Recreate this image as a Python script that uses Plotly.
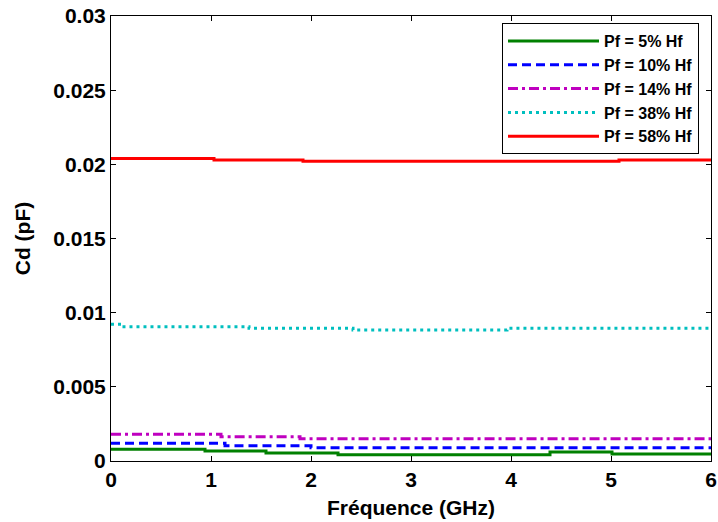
import plotly.graph_objects as go

# Frequency breakpoints (GHz) and Cd values (pF) (step-like curves)
freq_5 = [0, 0.94, 1.55, 2.27, 4.39, 5.01, 6]
cd_5 = [0.0008, 0.00067, 0.00054, 0.00042, 0.0006, 0.00047, 0.00047]

freq_10 = [0, 1.14, 2.0, 6]
cd_10 = [0.0012, 0.00103, 0.0009, 0.0009]

freq_14 = [0, 1.10, 1.89, 6]
cd_14 = [0.0018, 0.00164, 0.0015, 0.0015]

freq_38 = [0, 0.1, 1.38, 2.42, 3.96, 6]
cd_38 = [0.00922, 0.00905, 0.00895, 0.00883, 0.00895, 0.00895]

freq_58 = [0, 1.03, 1.92, 5.08, 6]
cd_58 = [0.0204, 0.0203, 0.0202, 0.0203, 0.0203]

names = ["Pf = 5% Hf", "Pf = 10% Hf", "Pf = 14% Hf", "Pf = 38% Hf", "Pf = 58% Hf"]
colors = ["#008000", "#0000FF", "#BF00BF", "#00BFBF", "#FF0000"]
dashes = ["solid", "9px,5px", "10px,4px,3px,4px", "3px,4px", "solid"]

x_ticks = [0, 1, 2, 3, 4, 5, 6]
y_ticks = [0, 0.005, 0.01, 0.015, 0.02, 0.025, 0.03]
y_tick_labels = ["0", "0.005", "0.01", "0.015", "0.02", "0.025", "0.03"]

series = [(freq_5, cd_5), (freq_10, cd_10), (freq_14, cd_14), (freq_38, cd_38), (freq_58, cd_58)]

fig = go.Figure()
for (fx, fy), name, col, dash in zip(series, names, colors, dashes):
    fig.add_trace(go.Scatter(
        x=fx, y=fy, mode="lines", name=name, line_shape="hv",
        line=dict(color=col, width=3, dash=dash),
    ))

FAM = "Liberation Sans, Arial, sans-serif"
tick_font = dict(family=FAM, size=21, color="black", weight="bold")
title_font = dict(family=FAM, size=21, color="black", weight="bold")

fig.update_layout(
    width=718, height=522,
    margin=dict(l=111, r=7, t=16, b=61, autoexpand=False),
    paper_bgcolor="white", plot_bgcolor="white",
    font=tick_font,
    legend=dict(
        x=(502 - 111) / 600, y=0.984, xanchor="left", yanchor="top",
        bgcolor="white", bordercolor="black", borderwidth=1,
        font=dict(family=FAM, size=16, color="black", weight="bold"),
        itemwidth=91, tracegroupgap=0,
    ),
    showlegend=True,
)
fig.update_xaxes(
    range=[0, 6], tickvals=x_ticks, ticks="inside", ticklen=5, tickcolor="black",
    showline=True, linecolor="black", linewidth=1, mirror="allticks",
    showgrid=False, zeroline=False, automargin=False, ticklabeloverflow="allow",
    title=dict(text="Fréquence (GHz)", font=title_font, standoff=10),
    tickfont=tick_font,
)
fig.update_yaxes(
    range=[0, 0.03], tickvals=y_ticks, ticktext=y_tick_labels, ticks="inside", ticklen=5,
    tickcolor="black", showline=True, linecolor="black", linewidth=1, mirror="allticks",
    showgrid=False, zeroline=False, automargin=False, ticklabeloverflow="allow",
    title=dict(text="Cd (pF)", font=title_font, standoff=16),
    tickfont=tick_font,
)

# remove the default 8px page margin so the figure fills the window exactly
fig.write_html("out.html", config={"displayModeBar": False},
               post_script="document.body.style.margin='0';")
